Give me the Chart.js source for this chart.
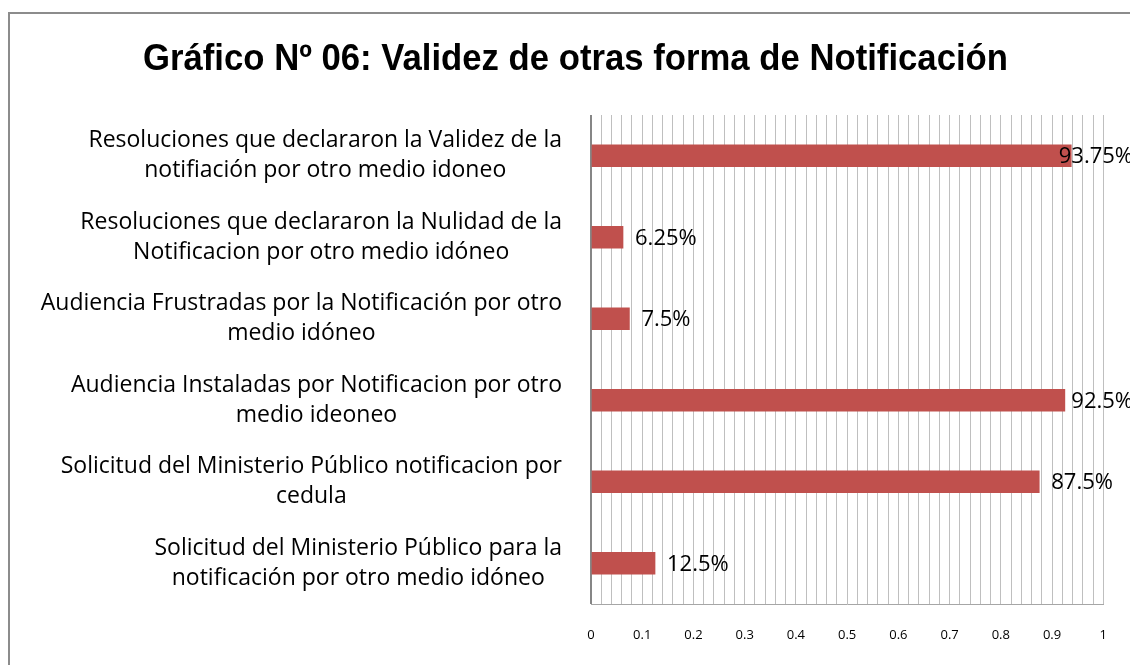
<!DOCTYPE html>
<html>
<head>
<meta charset="utf-8">
<script src="https://cdn.jsdelivr.net/npm/chart.js@4/dist/chart.umd.min.js"></script>
<style>
  html, body { margin: 0; padding: 0; background: #fff; }
  #wrap { width: 1130px; height: 665px; }
</style>
</head>
<body>
<div id="wrap"><canvas id="grafico"></canvas></div>
<script>
const titulo = "Gráfico Nº 06: Validez de otras forma de Notificación";

const categorias = [
  ["Resoluciones que declararon la Validez de la", "notifiación por otro medio idoneo"],
  ["Resoluciones que declararon la Nulidad de la", "Notificacion por otro medio idóneo"],
  ["Audiencia Frustradas por la Notificación por otro", "medio idóneo"],
  ["Audiencia Instaladas por Notificacion por otro", "medio ideoneo"],
  ["Solicitud del Ministerio Público notificacion por", "cedula"],
  ["Solicitud del Ministerio Público para la", "notificación por otro medio idóneo"],
];
const valores = [0.9375, 0.0625, 0.075, 0.925, 0.875, 0.125];
const etiquetasX = ["0", "0.1", "0.2", "0.3", "0.4", "0.5", "0.6", "0.7", "0.8", "0.9", "1"];

const fuenteTexto = "'Open Sans', Carlito, Lato, sans-serif";

// marco gris y titulo
const marcoPlugin = {
  id: "marco",
  beforeDraw(chart) {
    const ctx = chart.ctx;
    ctx.save();
    ctx.fillStyle = "#fff";
    ctx.fillRect(0, 0, chart.width, chart.height);
    ctx.strokeStyle = "#8c8c8c";
    ctx.lineWidth = 2;
    ctx.strokeRect(9, 13, chart.width + 20, chart.height + 20);
    ctx.fillStyle = "#000";
    ctx.font = "bold 37px 'Liberation Sans', Arial, sans-serif";
    ctx.textAlign = "center";
    ctx.textBaseline = "alphabetic";
    // el original usa una fuente estrecha: se comprime en horizontal
    const w = ctx.measureText(titulo).width;
    const k = 865 / w;
    ctx.translate(575.5, 70);
    ctx.scale(k, 1);
    ctx.fillText(titulo, 0, 0);
    ctx.restore();
  },
};

// etiquetas de categoria: bloque alineado a la derecha, lineas centradas
const categoriasPlugin = {
  id: "categorias",
  afterDraw(chart) {
    const ctx = chart.ctx;
    const yScale = chart.scales.y;
    ctx.save();
    ctx.font = "23px " + fuenteTexto;
    ctx.fillStyle = "#000";
    ctx.textAlign = "center";
    ctx.textBaseline = "middle";
    categorias.forEach((lineas, i) => {
      const y = yScale.getPixelForValue(i);
      const ancho = Math.max(...lineas.map((l) => ctx.measureText(l).width));
      const cx = 562 - ancho / 2;
      lineas.forEach((l, j) => {
        ctx.fillText(l, cx, y + (j - (lineas.length - 1) / 2) * 30);
      });
    });
    ctx.restore();
  },
};

// etiquetas de valor junto a cada barra
const valoresPlugin = {
  id: "valores",
  afterDatasetsDraw(chart) {
    const ctx = chart.ctx;
    const meta = chart.getDatasetMeta(0);
    ctx.save();
    ctx.font = "22px " + fuenteTexto;
    ctx.fillStyle = "#000";
    ctx.textAlign = "left";
    ctx.textBaseline = "middle";
    meta.data.forEach((bar, i) => {
      const txt = parseFloat((valores[i] * 100).toFixed(2)) + "%";
      const w = ctx.measureText(txt).width;
      const x = Math.min(bar.x + 12, chart.width + 3 - w);
      ctx.fillText(txt, x, bar.y + 1);
    });
    ctx.restore();
  },
};

new Chart(document.getElementById("grafico"), {
  type: "bar",
  data: {
    labels: categorias,
    datasets: [
      {
        data: valores,
        backgroundColor: "#c0504d",
        borderWidth: 0,
        barThickness: 22,
      },
    ],
  },
  options: {
    indexAxis: "y",
    responsive: true,
    maintainAspectRatio: false,
    animation: false,
    layout: { padding: { left: 591, right: 22, top: 115, bottom: 0 } },
    plugins: {
      legend: { display: false },
      tooltip: { enabled: false },
    },
    scales: {
      y: { display: false },
      x: {
        min: 0,
        max: 1,
        afterFit(scale) {
          scale.height = 61;
        },
        ticks: {
          stepSize: 0.02,
          autoSkip: false,
          maxRotation: 0,
          padding: 23,
          color: "#000",
          font: { family: fuenteTexto, size: 13 },
          callback: (v, i) => (i % 5 === 0 ? etiquetasX[i / 5] : ""),
        },
        grid: {
          drawTicks: false,
          color: (c) => (c.tick && c.tick.value === 0 ? "#868686" : "#bfbfbf"),
          lineWidth: (c) => (c.tick && c.tick.value === 0 ? 2 : 1),
        },
        border: { display: true, color: "#a6a6a6", width: 1 },
      },
    },
  },
  plugins: [marcoPlugin, categoriasPlugin, valoresPlugin],
});
</script>
</body>
</html>
